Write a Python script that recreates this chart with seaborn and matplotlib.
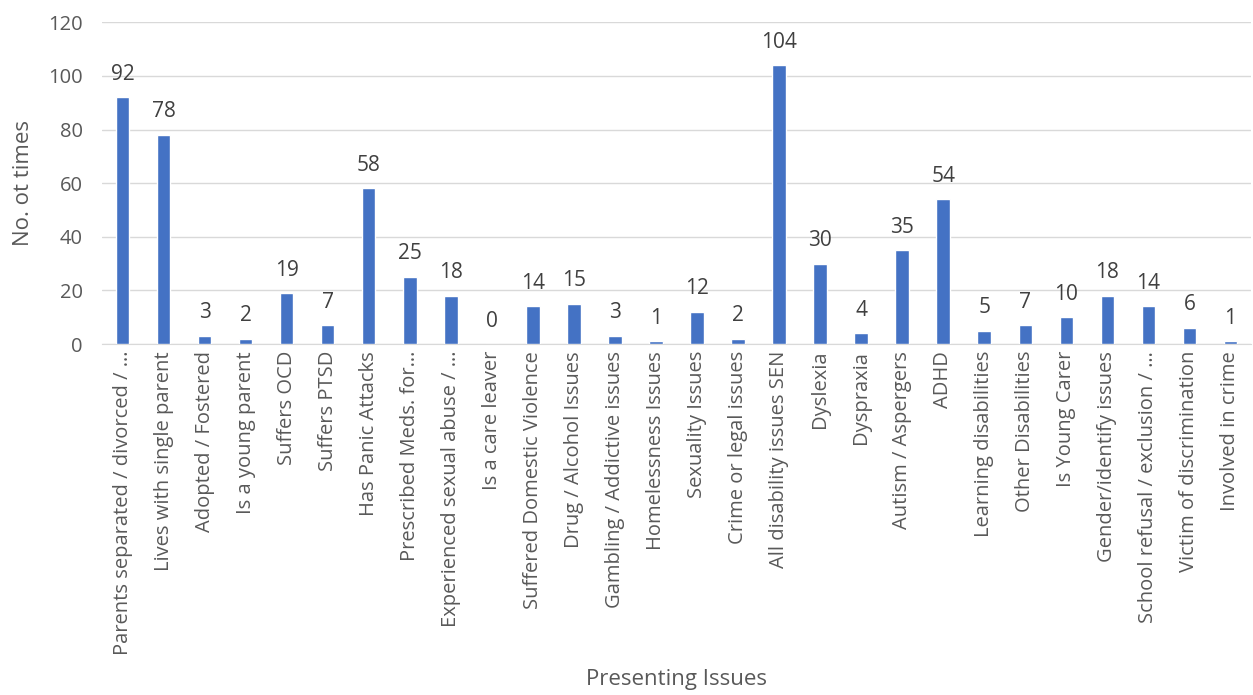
import numpy as np
import pandas as pd
import matplotlib.pyplot as plt
import seaborn as sns

# categories and counts
issues = [
    "Parents separated / divorced / …",
    "Lives with single parent",
    "Adopted / Fostered",
    "Is a young parent",
    "Suffers OCD",
    "Suffers PTSD",
    "Has Panic Attacks",
    "Prescribed Meds. for…",
    "Experienced sexual abuse / …",
    "Is a care leaver",
    "Suffered Domestic Violence",
    "Drug / Alcohol Issues",
    "Gambling / Addictive issues",
    "Homelessness Issues",
    "Sexuality Issues",
    "Crime or legal issues",
    "All disability issues SEN",
    "Dyslexia",
    "Dyspraxia",
    "Autism / Aspergers",
    "ADHD",
    "Learning disabilities",
    "Other Disabilities",
    "Is Young Carer",
    "Gender/identify issues",
    "School refusal / exclusion / …",
    "Victim of discrimination",
    "Involved in crime",
]
counts = [92, 78, 3, 2, 19, 7, 58, 25, 18, 0, 14, 15, 3, 1, 12, 2, 104, 30, 4, 35, 54, 5, 7, 10, 18, 14, 6, 1]

df = pd.DataFrame({"issue": issues, "count": counts})

sns.set_style("white")
plt.rcParams['font.family'] = ['Open Sans', 'DejaVu Sans']

fig = plt.figure(figsize=(12.53, 6.95), dpi=100)
ax = fig.add_axes([0.0814, 0.505, 0.917, 0.463])

sns.barplot(data=df, x="issue", y="count", color="#4472C4", width=0.33,
            saturation=1, ax=ax, zorder=3)

# value labels above bars
for i, v in enumerate(counts):
    ax.annotate(str(v), (i, v), xytext=(0, 9), textcoords="offset points",
                ha="center", va="bottom", fontsize=15, color="#404040")

ax.set_ylim(0, 120)
ax.set_yticks(range(0, 121, 20))
ax.set_xlim(-0.5, len(issues) - 0.5)
ax.yaxis.grid(True, color="#D9D9D9", linewidth=1, zorder=0)
ax.tick_params(axis="y", labelsize=14.5, labelcolor="#595959", length=0, pad=14)
ax.tick_params(axis="x", labelsize=14.5, labelcolor="#595959", length=0, pad=5)
plt.setp(ax.get_xticklabels(), rotation=90)
for s in ["top", "right", "left"]:
    ax.spines[s].set_visible(False)
ax.spines["bottom"].set_color("#D9D9D9")

ax.set_xlabel("Presenting Issues", fontsize=16, color="#595959", labelpad=10)
ax.set_ylabel("No. ot times", fontsize=16, color="#595959", labelpad=10)

fig.savefig("out.png", dpi=100)
